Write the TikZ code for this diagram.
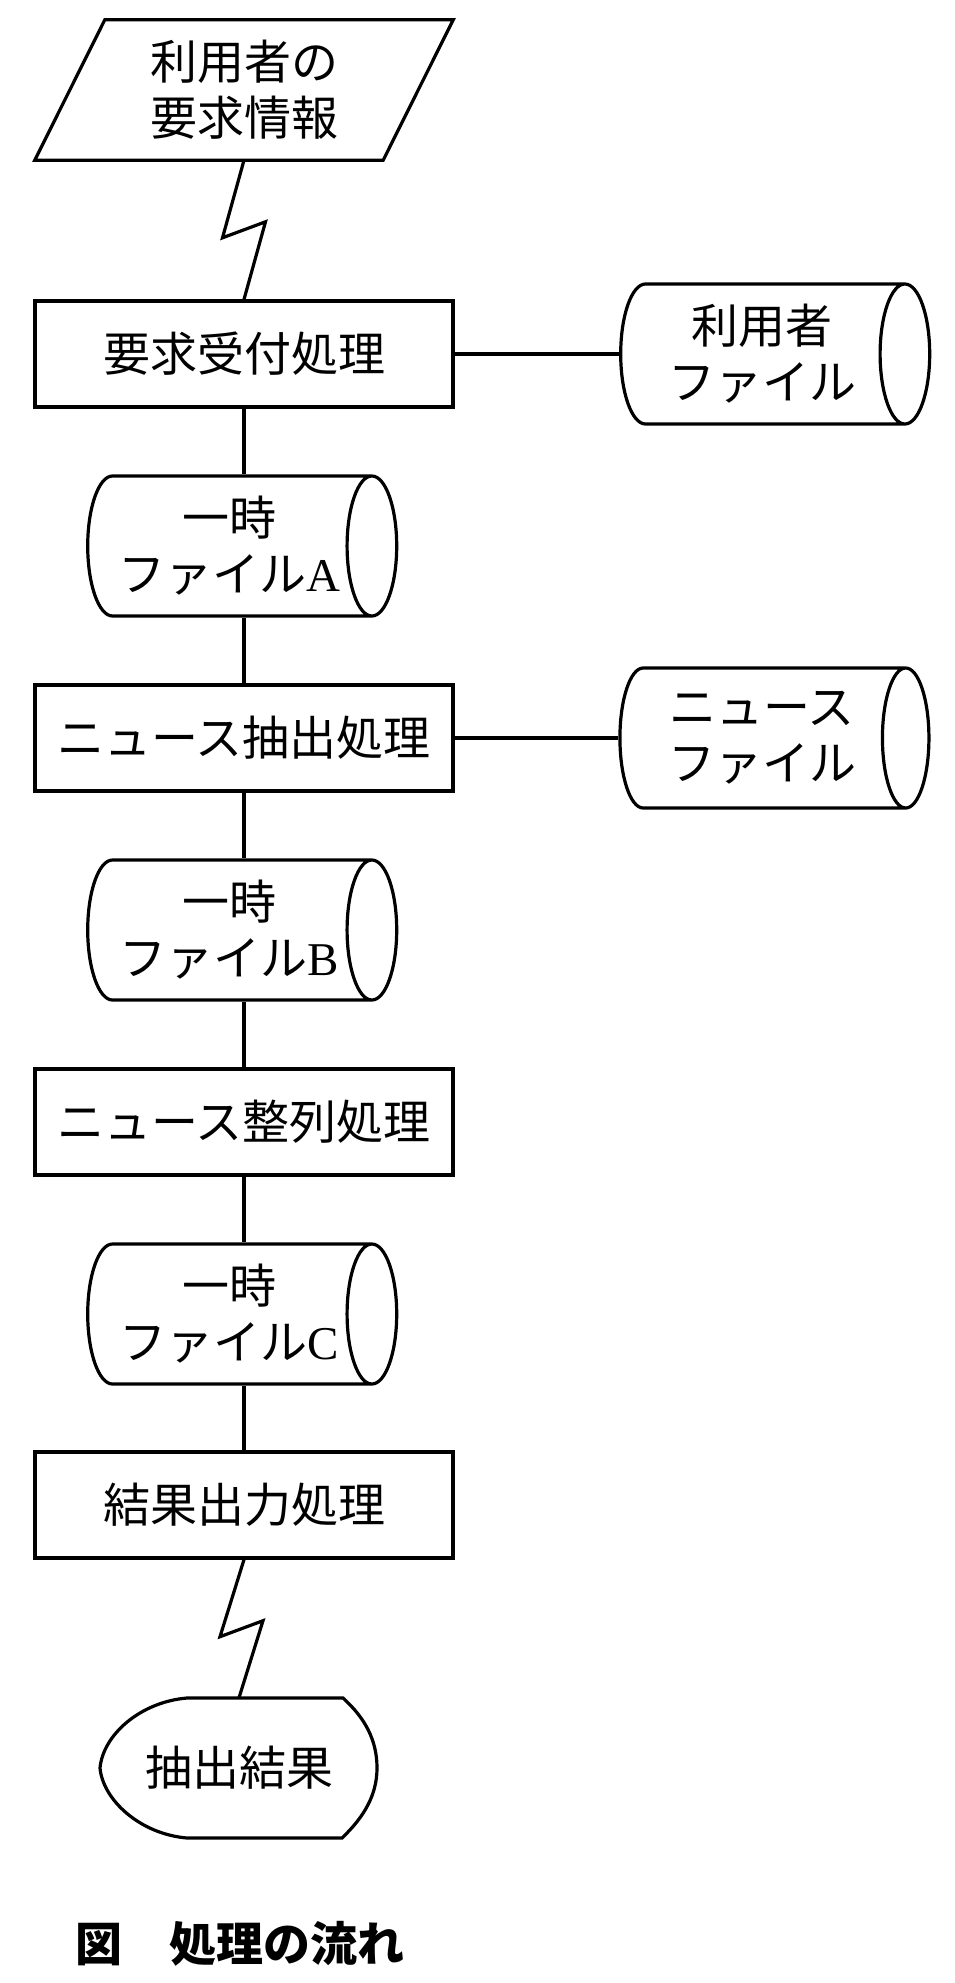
\documentclass[tikz,border=0pt]{standalone}
\usepackage{fontspec}
\newfontfamily\jpfont{Noto Sans CJK JP}
\newfontfamily\latinfont{Liberation Serif}
\usetikzlibrary{shapes.geometric,calc}
\begin{document}
\begin{tikzpicture}[x=1pt,y=-1pt,
    flowFont/.style={font=\jpfont\fontsize{47}{56}\selectfont},
    flowBox/.style={draw=black,line width=3.2pt,rectangle,minimum width=418pt,minimum height=106pt,inner sep=0pt,flowFont},
    flowFile/.style={draw=black,line width=3.2pt,cylinder,shape aspect=0.5,minimum width=140pt,minimum height=309pt,inner sep=0pt,align=center,flowFont},
    flowInput/.style={minimum width=348pt,minimum height=140pt,inner sep=0pt,align=center,flowFont},
    flowLine/.style={line width=3.2pt},
    flowZigzag/.style={line width=3.2pt,to path={-- ($(\tikztostart)!0.5!(\tikztotarget)+(-21.5,8)$) -- ($(\tikztostart)!0.5!(\tikztotarget)+(21.5,-8)$) -- (\tikztotarget)}},
]
\useasboundingbox (0,0) rectangle (954,1983);
\node[flowInput] (REQ) at (244,90) {利用者の\\要求情報};
\draw[flowLine] ($(REQ.north west)+(35,0)$) -- ($(REQ.north east)+(35,0)$)
    -- ($(REQ.south east)+(-35,0)$) -- ($(REQ.south west)+(-35,0)$) -- cycle;
\node[flowBox] (RECV) at (244,354) {要求受付処理};
\node[flowFile] (USERF) at (762,354) {利用者\\ファイル};
\node[flowFile] (TMPA) at (229,546) {一時\\ファイル{\latinfont A}};
\node[flowBox] (EXTR) at (244,738) {ニュース抽出処理};
\node[flowFile] (NEWSF) at (762,738) {ニュース\\ファイル};
\node[flowFile] (TMPB) at (229,930) {一時\\ファイル{\latinfont B}};
\node[flowBox] (SORT) at (244,1122) {ニュース整列処理};
\node[flowFile] (TMPC) at (229,1314) {一時\\ファイル{\latinfont C}};
\node[flowBox] (OUT) at (244,1505) {結果出力処理};
\node[flowFont,minimum width=277pt,minimum height=140pt,inner sep=0pt] (RES) at (239,1768) {抽出結果};
\draw[flowLine] (187,1698) -- (343,1698) .. controls (365,1718) and (377,1740) .. (377,1768)
    .. controls (377,1795) and (364,1817) .. (342,1838) -- (187,1838)
    .. controls (140,1834) and (103,1800) .. (100,1768)
    .. controls (103,1735) and (140,1702) .. (187,1698) -- cycle;
\node[anchor=west,font=\jpfont\bfseries\fontsize{47}{56}\selectfont] (CAP) at (72,1944) {図　処理の流れ};
\draw[flowZigzag] (REQ.south) to (RECV.north);
\draw[flowLine] (RECV) -- (USERF);
\draw[flowLine] (RECV.south) -- (RECV.south |- TMPA.north);
\draw[flowLine] (EXTR.north |- TMPA.south) -- (EXTR.north);
\draw[flowLine] (EXTR) -- (NEWSF);
\draw[flowLine] (EXTR.south) -- (EXTR.south |- TMPB.north);
\draw[flowLine] (SORT.north |- TMPB.south) -- (SORT.north);
\draw[flowLine] (SORT.south) -- (SORT.south |- TMPC.north);
\draw[flowLine] (OUT.north |- TMPC.south) -- (OUT.north);
\draw[flowZigzag] (OUT.south) to (RES.north);
\end{tikzpicture}
\end{document}
